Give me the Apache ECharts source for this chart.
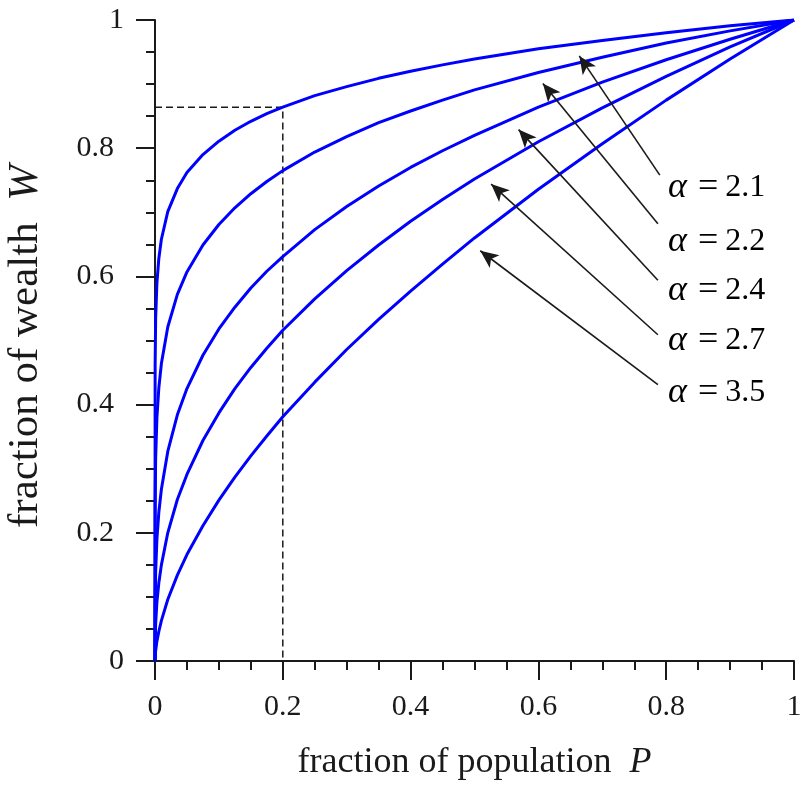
<!DOCTYPE html>
<html lang="en">
<head>
    <meta charset="UTF-8">
    <title>Lorenz curves</title>
    <script src="https://cdn.jsdelivr.net/npm/echarts@6/dist/echarts.min.js"></script>
    <style>
        html, body { margin: 0; padding: 0; background: #fff; }
        #grafica { width: 801px; height: 787px; }
    </style>
</head>
<body>
    <div id="grafica"></div>
    <script>
        // fraction of population P (x values shared by all curves)
        const poblacion = [0, 0.0002, 0.001, 0.003, 0.006, 0.01, 0.02, 0.035, 0.05, 0.075, 0.1, 0.125, 0.15, 0.175, 0.2, 0.25, 0.3, 0.35, 0.4, 0.45, 0.5, 0.6, 0.7, 0.8, 0.9, 1];

        // fraction of wealth W, one array per alpha
        const w21 = [0, 0.461, 0.534, 0.590, 0.628, 0.658, 0.701, 0.737, 0.762, 0.790, 0.811, 0.828, 0.842, 0.854, 0.864, 0.882, 0.896, 0.909, 0.920, 0.930, 0.939, 0.955, 0.968, 0.980, 0.991, 1];
        const w22 = [0, 0.242, 0.316, 0.380, 0.426, 0.464, 0.521, 0.572, 0.607, 0.649, 0.681, 0.707, 0.729, 0.748, 0.765, 0.794, 0.818, 0.840, 0.858, 0.875, 0.891, 0.918, 0.942, 0.964, 0.983, 1];
        const w24 = [0, 0.088, 0.139, 0.190, 0.232, 0.268, 0.327, 0.384, 0.425, 0.477, 0.518, 0.552, 0.582, 0.608, 0.631, 0.673, 0.709, 0.741, 0.770, 0.796, 0.820, 0.864, 0.903, 0.938, 0.970, 1];
        const w27 = [0, 0.030, 0.058, 0.092, 0.122, 0.150, 0.200, 0.252, 0.291, 0.344, 0.387, 0.425, 0.458, 0.488, 0.516, 0.565, 0.609, 0.649, 0.686, 0.720, 0.752, 0.810, 0.863, 0.912, 0.958, 1];
        const w35 = [0, 0.006, 0.016, 0.031, 0.046, 0.063, 0.096, 0.134, 0.166, 0.211, 0.251, 0.287, 0.320, 0.351, 0.381, 0.435, 0.486, 0.533, 0.577, 0.619, 0.660, 0.736, 0.807, 0.875, 0.939, 1];

        const alfas = ['2.1', '2.2', '2.4', '2.7', '3.5'];
        const curvas = [w21, w22, w24, w27, w35];

        // reference point marked by the dashed lines
        const corteP = 0.2;
        const corteW = 0.864;

        // annotation geometry (data coordinates): arrow tails, arrow heads, label anchors
        const colas = [[0.790, 0.758], [0.787, 0.682], [0.787, 0.594], [0.787, 0.509], [0.787, 0.431]];
        const puntas = [[0.664, 0.944], [0.607, 0.901], [0.569, 0.829], [0.526, 0.744], [0.509, 0.640]];
        const etiquetas = [[0.803, 0.738], [0.803, 0.655], [0.803, 0.578], [0.803, 0.500], [0.803, 0.419]];

        const fuente = 'Liberation Serif, Times New Roman, serif';
        const tinta = '#1a1a1a';

        let myChart = echarts.init(document.getElementById('grafica'), null, { renderer: 'canvas' });

        let series = curvas.map(function (vals, k) {
            return {
                name: 'alpha = ' + alfas[k],
                type: 'line',
                data: poblacion.map((p, i) => [p, vals[i]]),
                smooth: false,
                showSymbol: false,
                symbol: 'none',
                lineStyle: { color: '#0000ff', width: 3, join: 'round' },
                z: 3
            };
        });

        // dashed guide lines
        series.push({
            type: 'line',
            data: [[0, corteW], [corteP, corteW], [corteP, 0]],
            symbol: 'none',
            lineStyle: { color: tinta, width: 1.5, type: [7, 4] },
            z: 2
        });

        // labels + arrows
        series.push({
            type: 'scatter',
            data: etiquetas,
            symbolSize: 0,
            itemStyle: { opacity: 1 },
            label: {
                show: true,
                position: 'right',
                distance: 0,
                opacity: 1,
                color: '#000',
                formatter: p => '{a|α}{e|=}{n|' + alfas[p.dataIndex] + '}',
                rich: {
                    a: { fontFamily: fuente, fontSize: 36, fontStyle: 'italic', color: '#000' },
                    e: { fontFamily: fuente, fontSize: 36, color: '#000', padding: [0, 7, 0, 11] },
                    n: { fontFamily: fuente, fontSize: 32, color: '#000' }
                }
            },
            markLine: {
                silent: true,
                symbol: ['none', 'arrow'],
                symbolSize: [12, 18],
                lineStyle: { color: tinta, width: 1.6, type: 'solid' },
                label: { show: false },
                data: colas.map((c, i) => [{ coord: c }, { coord: puntas[i] }])
            },
            z: 4
        });

        let option = {
            animation: false,
            backgroundColor: '#fff',
            grid: { left: 155, right: 7, top: 20, bottom: 126, containLabel: false, outerBoundsMode: 'none' },
            xAxis: {
                type: 'value',
                min: 0, max: 1, interval: 0.2,
                name: 'fraction of population  {i|P}',
                nameLocation: 'middle',
                nameGap: 84,
                nameTextStyle: {
                    fontFamily: fuente, fontSize: 36, color: tinta,
                    rich: { i: { fontFamily: fuente, fontSize: 36, fontStyle: 'italic', color: tinta } }
                },
                axisLine: { onZero: false, lineStyle: { color: tinta, width: 2 } },
                axisTick: { show: true, inside: false, length: 19, lineStyle: { color: tinta, width: 2 } },
                minorTick: { show: true, splitNumber: 4, length: 9, lineStyle: { color: tinta, width: 2 } },
                axisLabel: { fontFamily: fuente, fontSize: 30, color: tinta, margin: 31 },
                splitLine: { show: false }
            },
            yAxis: {
                type: 'value',
                min: 0, max: 1, interval: 0.2,
                name: 'fraction of wealth  {i|W}',
                nameLocation: 'middle',
                nameGap: 108,
                nameTextStyle: {
                    fontFamily: fuente, fontSize: 43, color: tinta,
                    padding: [0, 12, 0, 0],
                    rich: { i: { fontFamily: fuente, fontSize: 43, fontStyle: 'italic', color: tinta } }
                },
                axisLine: { show: true, onZero: false, lineStyle: { color: tinta, width: 2 } },
                axisTick: { show: true, inside: false, length: 19, lineStyle: { color: tinta, width: 2 } },
                minorTick: { show: true, splitNumber: 4, length: 9, lineStyle: { color: tinta, width: 2 } },
                axisLabel: {
                    fontFamily: fuente, fontSize: 30, color: tinta, margin: 31,
                    formatter: v => (v === 0 || v === 1) ? String(v) : '{d|' + v + '}',
                    rich: { d: { fontFamily: fuente, fontSize: 30, color: tinta, padding: [0, 10, 0, 0] } }
                },
                splitLine: { show: false }
            },
            series: series
        };

        myChart.setOption(option);
    </script>
</body>
</html>
